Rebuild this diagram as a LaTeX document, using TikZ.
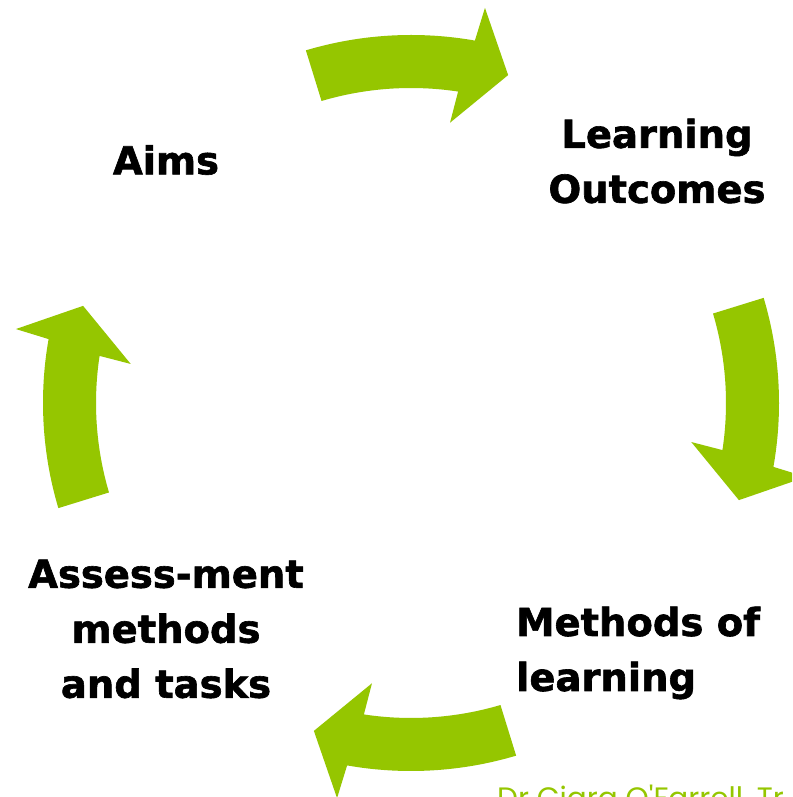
\documentclass[tikz,border=0pt]{standalone}
\usepackage{fontspec}
\setmainfont{DejaVu Sans}[BoldFeatures={FakeBold=1.6}]
\newfontfamily\creditfont{Poppins}
\definecolor{ringgreen}{RGB}{149,198,0}

\tikzset{
  ring/.style={fill=ringgreen, draw=none},
  stagelabel/.style={inner sep=0pt, text=black,
    font=\bfseries\fontsize{38.5}{55}\selectfont},
  credit/.style={inner sep=0pt, anchor=base west, text=ringgreen,
    font=\creditfont\fontsize{29.5}{31}\selectfont},
  % one curved block arrow of the cycle, drawn around the origin
  cyclearrow/.pic={
    \path[ring] (106.6:368) arc[start angle=106.6, end angle=80.0, radius=368pt]
      -- (79.4:402) -- (73.5:342) -- (82.07:283) -- (81.4:315)
      arc[start angle=81.4, end angle=106.5, radius=315pt] -- cycle;
  }
}

\begin{document}
\begin{tikzpicture}[x=1pt, y=1pt]
  \useasboundingbox (0,0) rectangle (792,797);
  \clip (0,0) rectangle (792,797);
  \fill[white] (0,0) rectangle (792,797);

  \coordinate (hub) at (411,394);

  % the four arrows, turning clockwise
  \pic[rotate=0]    at (hub) {cyclearrow};
  \pic[rotate=-90]  at (hub) {cyclearrow};
  \pic[rotate=-180] at (hub) {cyclearrow};
  \pic[rotate=-270] at (hub) {cyclearrow};

  % stage labels
  \node[stagelabel] (aims) at (166,637) {Aims};
  \node[stagelabel, align=center] (outcomes) at (657,636) {Learning\\Outcomes};
  \node[stagelabel, align=left, anchor=west] (methods) at (516,144) {Methods of\\learning};
  \node[stagelabel, align=center] (assess) at (166,168) {Assess-ment\\methods\\and tasks};

  \node[credit] (author) at (497,-12) {Dr Ciara O'Farrell, Tr};
\end{tikzpicture}
\end{document}
